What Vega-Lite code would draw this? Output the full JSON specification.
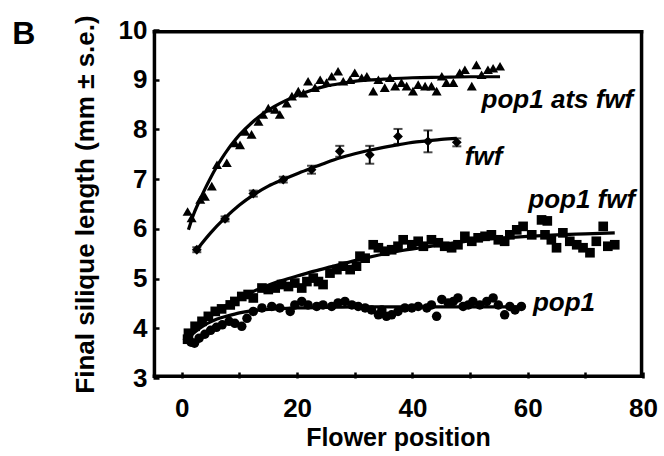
{
  "$schema": "https://vega.github.io/schema/vega-lite/v6.json",
  "width": 490,
  "height": 348,
  "autosize": {"type": "none"},
  "padding": {"left": 153, "top": 30, "right": 21, "bottom": 78},
  "background": "white",
  "view": {"stroke": null},
  "config": {
    "view": {"stroke": null},
    "font": "Liberation Sans",
    "axis": {
      "domain": false,
      "grid": false,
      "ticks": true,
      "zindex": 0,
      "tickColor": "black",
      "tickWidth": 2.5,
      "tickSize": -6,
      "labelFlush": false,
      "labelOverlap": false,
      "labelFont": "Liberation Sans",
      "labelFontSize": 26,
      "labelFontWeight": "bold",
      "labelColor": "black",
      "titleFont": "Liberation Sans",
      "titleFontWeight": "bold",
      "titleColor": "black"
    }
  },
  "datasets": {
    "pts": [
      {"series": "pop1 ats fwf", "x": 1.0, "y": 6.35}, {"series": "pop1 ats fwf", "x": 1.7, "y": 6.22},
      {"series": "pop1 ats fwf", "x": 3.2, "y": 6.59}, {"series": "pop1 ats fwf", "x": 4.0, "y": 6.65},
      {"series": "pop1 ats fwf", "x": 5.2, "y": 6.86}, {"series": "pop1 ats fwf", "x": 6.1, "y": 7.29},
      {"series": "pop1 ats fwf", "x": 7.8, "y": 7.33}, {"series": "pop1 ats fwf", "x": 9.2, "y": 7.73},
      {"series": "pop1 ats fwf", "x": 10.1, "y": 7.69}, {"series": "pop1 ats fwf", "x": 11.0, "y": 7.96},
      {"series": "pop1 ats fwf", "x": 12.1, "y": 7.9}, {"series": "pop1 ats fwf", "x": 13.3, "y": 8.16},
      {"series": "pop1 ats fwf", "x": 14.1, "y": 8.3}, {"series": "pop1 ats fwf", "x": 15.0, "y": 8.43},
      {"series": "pop1 ats fwf", "x": 16.2, "y": 8.4}, {"series": "pop1 ats fwf", "x": 17.0, "y": 8.3},
      {"series": "pop1 ats fwf", "x": 18.2, "y": 8.53}, {"series": "pop1 ats fwf", "x": 19.1, "y": 8.67},
      {"series": "pop1 ats fwf", "x": 20.2, "y": 8.77}, {"series": "pop1 ats fwf", "x": 21.1, "y": 8.73},
      {"series": "pop1 ats fwf", "x": 21.9, "y": 8.97}, {"series": "pop1 ats fwf", "x": 23.1, "y": 8.84},
      {"series": "pop1 ats fwf", "x": 24.0, "y": 9.0}, {"series": "pop1 ats fwf", "x": 25.1, "y": 8.94},
      {"series": "pop1 ats fwf", "x": 26.0, "y": 9.07}, {"series": "pop1 ats fwf", "x": 27.1, "y": 9.17},
      {"series": "pop1 ats fwf", "x": 28.0, "y": 8.97}, {"series": "pop1 ats fwf", "x": 29.2, "y": 9.0},
      {"series": "pop1 ats fwf", "x": 30.0, "y": 9.14}, {"series": "pop1 ats fwf", "x": 31.2, "y": 9.04},
      {"series": "pop1 ats fwf", "x": 32.1, "y": 9.07}, {"series": "pop1 ats fwf", "x": 33.2, "y": 8.77},
      {"series": "pop1 ats fwf", "x": 34.1, "y": 9.0}, {"series": "pop1 ats fwf", "x": 35.2, "y": 8.84},
      {"series": "pop1 ats fwf", "x": 36.1, "y": 9.04}, {"series": "pop1 ats fwf", "x": 37.0, "y": 8.87},
      {"series": "pop1 ats fwf", "x": 38.1, "y": 8.94}, {"series": "pop1 ats fwf", "x": 39.0, "y": 8.87},
      {"series": "pop1 ats fwf", "x": 40.1, "y": 8.77}, {"series": "pop1 ats fwf", "x": 41.0, "y": 8.9},
      {"series": "pop1 ats fwf", "x": 42.2, "y": 8.87}, {"series": "pop1 ats fwf", "x": 43.3, "y": 8.87},
      {"series": "pop1 ats fwf", "x": 44.2, "y": 8.77}, {"series": "pop1 ats fwf", "x": 45.1, "y": 9.07},
      {"series": "pop1 ats fwf", "x": 45.9, "y": 8.94}, {"series": "pop1 ats fwf", "x": 47.1, "y": 8.94},
      {"series": "pop1 ats fwf", "x": 48.2, "y": 9.14}, {"series": "pop1 ats fwf", "x": 49.1, "y": 9.2},
      {"series": "pop1 ats fwf", "x": 50.3, "y": 8.87}, {"series": "pop1 ats fwf", "x": 51.1, "y": 9.3},
      {"series": "pop1 ats fwf", "x": 52.0, "y": 9.1}, {"series": "pop1 ats fwf", "x": 53.1, "y": 9.2},
      {"series": "pop1 ats fwf", "x": 54.0, "y": 9.23}, {"series": "pop1 ats fwf", "x": 55.2, "y": 9.27},

      {"series": "fwf", "x": 2.6, "y": 5.58}, {"series": "fwf", "x": 7.5, "y": 6.2},
      {"series": "fwf", "x": 12.4, "y": 6.71}, {"series": "fwf", "x": 17.6, "y": 6.99},
      {"series": "fwf", "x": 22.5, "y": 7.19}, {"series": "fwf", "x": 27.4, "y": 7.56},
      {"series": "fwf", "x": 32.6, "y": 7.49}, {"series": "fwf", "x": 37.5, "y": 7.86},
      {"series": "fwf", "x": 42.7, "y": 7.76}, {"series": "fwf", "x": 47.7, "y": 7.74},

      {"series": "pop1 fwf", "x": 1.0, "y": 3.78}, {"series": "pop1 fwf", "x": 1.15, "y": 3.9},
      {"series": "pop1 fwf", "x": 2.3, "y": 4.04}, {"series": "pop1 fwf", "x": 3.5, "y": 4.14},
      {"series": "pop1 fwf", "x": 4.6, "y": 4.24}, {"series": "pop1 fwf", "x": 5.8, "y": 4.34},
      {"series": "pop1 fwf", "x": 6.9, "y": 4.39}, {"series": "pop1 fwf", "x": 8.4, "y": 4.47},
      {"series": "pop1 fwf", "x": 9.2, "y": 4.54}, {"series": "pop1 fwf", "x": 10.4, "y": 4.64},
      {"series": "pop1 fwf", "x": 11.5, "y": 4.68}, {"series": "pop1 fwf", "x": 12.4, "y": 4.61},
      {"series": "pop1 fwf", "x": 13.9, "y": 4.81}, {"series": "pop1 fwf", "x": 15.0, "y": 4.78},
      {"series": "pop1 fwf", "x": 16.2, "y": 4.81}, {"series": "pop1 fwf", "x": 17.3, "y": 4.88},
      {"series": "pop1 fwf", "x": 18.5, "y": 4.84}, {"series": "pop1 fwf", "x": 19.6, "y": 4.91},
      {"series": "pop1 fwf", "x": 20.8, "y": 4.81}, {"series": "pop1 fwf", "x": 21.7, "y": 4.94},
      {"series": "pop1 fwf", "x": 22.8, "y": 5.01}, {"series": "pop1 fwf", "x": 23.7, "y": 4.94},
      {"series": "pop1 fwf", "x": 24.5, "y": 4.88}, {"series": "pop1 fwf", "x": 25.7, "y": 5.11},
      {"series": "pop1 fwf", "x": 26.9, "y": 5.18}, {"series": "pop1 fwf", "x": 28.0, "y": 5.25},
      {"series": "pop1 fwf", "x": 29.2, "y": 5.18}, {"series": "pop1 fwf", "x": 30.3, "y": 5.25},
      {"series": "pop1 fwf", "x": 30.9, "y": 5.45}, {"series": "pop1 fwf", "x": 31.8, "y": 5.41},
      {"series": "pop1 fwf", "x": 33.2, "y": 5.68}, {"series": "pop1 fwf", "x": 34.1, "y": 5.62},
      {"series": "pop1 fwf", "x": 35.2, "y": 5.55}, {"series": "pop1 fwf", "x": 36.4, "y": 5.58},
      {"series": "pop1 fwf", "x": 37.5, "y": 5.65}, {"series": "pop1 fwf", "x": 38.4, "y": 5.78},
      {"series": "pop1 fwf", "x": 39.9, "y": 5.68}, {"series": "pop1 fwf", "x": 41.0, "y": 5.75},
      {"series": "pop1 fwf", "x": 41.9, "y": 5.65}, {"series": "pop1 fwf", "x": 43.3, "y": 5.78},
      {"series": "pop1 fwf", "x": 44.5, "y": 5.72}, {"series": "pop1 fwf", "x": 45.6, "y": 5.65},
      {"series": "pop1 fwf", "x": 46.8, "y": 5.62}, {"series": "pop1 fwf", "x": 47.9, "y": 5.68},
      {"series": "pop1 fwf", "x": 49.1, "y": 5.85}, {"series": "pop1 fwf", "x": 50.3, "y": 5.75},
      {"series": "pop1 fwf", "x": 51.4, "y": 5.82}, {"series": "pop1 fwf", "x": 52.6, "y": 5.85},
      {"series": "pop1 fwf", "x": 53.7, "y": 5.88}, {"series": "pop1 fwf", "x": 54.9, "y": 5.78},
      {"series": "pop1 fwf", "x": 56.0, "y": 5.75}, {"series": "pop1 fwf", "x": 56.9, "y": 5.88},
      {"series": "pop1 fwf", "x": 58.1, "y": 5.98}, {"series": "pop1 fwf", "x": 59.2, "y": 6.05},
      {"series": "pop1 fwf", "x": 60.7, "y": 5.88}, {"series": "pop1 fwf", "x": 62.4, "y": 6.18},
      {"series": "pop1 fwf", "x": 63.4, "y": 6.16}, {"series": "pop1 fwf", "x": 63.0, "y": 5.88},
      {"series": "pop1 fwf", "x": 64.1, "y": 5.78}, {"series": "pop1 fwf", "x": 65.0, "y": 5.62},
      {"series": "pop1 fwf", "x": 66.1, "y": 5.92}, {"series": "pop1 fwf", "x": 67.3, "y": 5.75},
      {"series": "pop1 fwf", "x": 68.5, "y": 5.68}, {"series": "pop1 fwf", "x": 69.6, "y": 5.62},
      {"series": "pop1 fwf", "x": 70.8, "y": 5.52}, {"series": "pop1 fwf", "x": 71.9, "y": 5.75},
      {"series": "pop1 fwf", "x": 73.1, "y": 6.05}, {"series": "pop1 fwf", "x": 73.9, "y": 5.65},
      {"series": "pop1 fwf", "x": 75.1, "y": 5.68},

      {"series": "pop1", "x": 1.0, "y": 3.78}, {"series": "pop1", "x": 1.6, "y": 3.72},
      {"series": "pop1", "x": 2.2, "y": 3.7}, {"series": "pop1", "x": 3.0, "y": 3.8},
      {"series": "pop1", "x": 4.0, "y": 3.88}, {"series": "pop1", "x": 5.0, "y": 3.96},
      {"series": "pop1", "x": 6.0, "y": 4.02}, {"series": "pop1", "x": 7.0, "y": 4.07},
      {"series": "pop1", "x": 8.2, "y": 4.14}, {"series": "pop1", "x": 9.2, "y": 4.1},
      {"series": "pop1", "x": 10.4, "y": 4.04}, {"series": "pop1", "x": 11.3, "y": 4.2},
      {"series": "pop1", "x": 12.4, "y": 4.34}, {"series": "pop1", "x": 13.9, "y": 4.41},
      {"series": "pop1", "x": 15.6, "y": 4.44}, {"series": "pop1", "x": 17.0, "y": 4.41},
      {"series": "pop1", "x": 18.8, "y": 4.34}, {"series": "pop1", "x": 19.6, "y": 4.47},
      {"series": "pop1", "x": 20.8, "y": 4.54}, {"series": "pop1", "x": 21.9, "y": 4.47},
      {"series": "pop1", "x": 23.4, "y": 4.44}, {"series": "pop1", "x": 24.5, "y": 4.47},
      {"series": "pop1", "x": 26.0, "y": 4.44}, {"series": "pop1", "x": 27.1, "y": 4.51},
      {"series": "pop1", "x": 28.3, "y": 4.54}, {"series": "pop1", "x": 29.5, "y": 4.47},
      {"series": "pop1", "x": 30.6, "y": 4.44}, {"series": "pop1", "x": 31.8, "y": 4.41},
      {"series": "pop1", "x": 32.9, "y": 4.37}, {"series": "pop1", "x": 34.1, "y": 4.27},
      {"series": "pop1", "x": 34.7, "y": 4.37}, {"series": "pop1", "x": 35.5, "y": 4.24},
      {"series": "pop1", "x": 36.4, "y": 4.27}, {"series": "pop1", "x": 37.5, "y": 4.34},
      {"series": "pop1", "x": 38.7, "y": 4.41}, {"series": "pop1", "x": 39.9, "y": 4.41},
      {"series": "pop1", "x": 41.0, "y": 4.44}, {"series": "pop1", "x": 42.5, "y": 4.41},
      {"series": "pop1", "x": 43.3, "y": 4.47}, {"series": "pop1", "x": 44.2, "y": 4.24},
      {"series": "pop1", "x": 45.1, "y": 4.58}, {"series": "pop1", "x": 46.2, "y": 4.51},
      {"series": "pop1", "x": 47.1, "y": 4.54}, {"series": "pop1", "x": 47.9, "y": 4.61},
      {"series": "pop1", "x": 48.8, "y": 4.44}, {"series": "pop1", "x": 49.7, "y": 4.47},
      {"series": "pop1", "x": 50.5, "y": 4.54}, {"series": "pop1", "x": 51.7, "y": 4.47},
      {"series": "pop1", "x": 52.9, "y": 4.54}, {"series": "pop1", "x": 54.0, "y": 4.61},
      {"series": "pop1", "x": 54.9, "y": 4.47}, {"series": "pop1", "x": 56.0, "y": 4.27},
      {"series": "pop1", "x": 56.9, "y": 4.44}, {"series": "pop1", "x": 57.8, "y": 4.37},
      {"series": "pop1", "x": 58.9, "y": 4.44}
    ],
    "fit": [
      {"series": "pop1 ats fwf", "x": 1.15, "y": 5.98}, {"series": "pop1 ats fwf", "x": 2, "y": 6.28},
      {"series": "pop1 ats fwf", "x": 3, "y": 6.55}, {"series": "pop1 ats fwf", "x": 4, "y": 6.8},
      {"series": "pop1 ats fwf", "x": 5, "y": 7.03}, {"series": "pop1 ats fwf", "x": 6, "y": 7.24},
      {"series": "pop1 ats fwf", "x": 7, "y": 7.43}, {"series": "pop1 ats fwf", "x": 8, "y": 7.6},
      {"series": "pop1 ats fwf", "x": 9, "y": 7.75}, {"series": "pop1 ats fwf", "x": 10, "y": 7.89},
      {"series": "pop1 ats fwf", "x": 12, "y": 8.12}, {"series": "pop1 ats fwf", "x": 14, "y": 8.31},
      {"series": "pop1 ats fwf", "x": 16, "y": 8.46}, {"series": "pop1 ats fwf", "x": 18, "y": 8.58},
      {"series": "pop1 ats fwf", "x": 20, "y": 8.68}, {"series": "pop1 ats fwf", "x": 22, "y": 8.77},
      {"series": "pop1 ats fwf", "x": 25, "y": 8.87}, {"series": "pop1 ats fwf", "x": 28, "y": 8.93},
      {"series": "pop1 ats fwf", "x": 31, "y": 8.98}, {"series": "pop1 ats fwf", "x": 35, "y": 9.01},
      {"series": "pop1 ats fwf", "x": 40, "y": 9.04}, {"series": "pop1 ats fwf", "x": 45, "y": 9.05},
      {"series": "pop1 ats fwf", "x": 50, "y": 9.06}, {"series": "pop1 ats fwf", "x": 55.2, "y": 9.06},

      {"series": "fwf", "x": 2.6, "y": 5.58}, {"series": "fwf", "x": 5, "y": 5.92},
      {"series": "fwf", "x": 7.5, "y": 6.22}, {"series": "fwf", "x": 10, "y": 6.48},
      {"series": "fwf", "x": 12.5, "y": 6.69}, {"series": "fwf", "x": 15, "y": 6.86},
      {"series": "fwf", "x": 17.5, "y": 6.99}, {"series": "fwf", "x": 20, "y": 7.11},
      {"series": "fwf", "x": 22.5, "y": 7.22}, {"series": "fwf", "x": 25, "y": 7.33},
      {"series": "fwf", "x": 27.5, "y": 7.43}, {"series": "fwf", "x": 30, "y": 7.51},
      {"series": "fwf", "x": 32.5, "y": 7.58}, {"series": "fwf", "x": 35, "y": 7.64},
      {"series": "fwf", "x": 37.5, "y": 7.69}, {"series": "fwf", "x": 40, "y": 7.74},
      {"series": "fwf", "x": 42.5, "y": 7.77}, {"series": "fwf", "x": 45, "y": 7.8},
      {"series": "fwf", "x": 47.7, "y": 7.82},

      {"series": "pop1 fwf", "x": 1.2, "y": 3.85}, {"series": "pop1 fwf", "x": 3, "y": 4.05},
      {"series": "pop1 fwf", "x": 5, "y": 4.24}, {"series": "pop1 fwf", "x": 7, "y": 4.41},
      {"series": "pop1 fwf", "x": 9, "y": 4.55}, {"series": "pop1 fwf", "x": 11, "y": 4.67},
      {"series": "pop1 fwf", "x": 14, "y": 4.82}, {"series": "pop1 fwf", "x": 17, "y": 4.95},
      {"series": "pop1 fwf", "x": 20, "y": 5.05}, {"series": "pop1 fwf", "x": 23, "y": 5.15},
      {"series": "pop1 fwf", "x": 26, "y": 5.24}, {"series": "pop1 fwf", "x": 30, "y": 5.36},
      {"series": "pop1 fwf", "x": 34, "y": 5.47}, {"series": "pop1 fwf", "x": 38, "y": 5.56},
      {"series": "pop1 fwf", "x": 42, "y": 5.63}, {"series": "pop1 fwf", "x": 46, "y": 5.7},
      {"series": "pop1 fwf", "x": 50, "y": 5.76}, {"series": "pop1 fwf", "x": 55, "y": 5.81},
      {"series": "pop1 fwf", "x": 60, "y": 5.85}, {"series": "pop1 fwf", "x": 65, "y": 5.88},
      {"series": "pop1 fwf", "x": 70, "y": 5.9}, {"series": "pop1 fwf", "x": 75.1, "y": 5.92},

      {"series": "pop1", "x": 1.2, "y": 3.8}, {"series": "pop1", "x": 2, "y": 3.9},
      {"series": "pop1", "x": 3, "y": 3.99}, {"series": "pop1", "x": 4, "y": 4.07},
      {"series": "pop1", "x": 5, "y": 4.13}, {"series": "pop1", "x": 6, "y": 4.18},
      {"series": "pop1", "x": 8, "y": 4.25}, {"series": "pop1", "x": 10, "y": 4.31},
      {"series": "pop1", "x": 12, "y": 4.35}, {"series": "pop1", "x": 15, "y": 4.38},
      {"series": "pop1", "x": 20, "y": 4.41}, {"series": "pop1", "x": 25, "y": 4.42},
      {"series": "pop1", "x": 30, "y": 4.43}, {"series": "pop1", "x": 40, "y": 4.43},
      {"series": "pop1", "x": 50, "y": 4.43}, {"series": "pop1", "x": 58.9, "y": 4.43}
    ],
    "err": [
      {"x": 2.6, "lo": 5.53, "hi": 5.63}, {"x": 7.5, "lo": 6.15, "hi": 6.25},
      {"x": 12.4, "lo": 6.65, "hi": 6.77}, {"x": 17.6, "lo": 6.93, "hi": 7.05},
      {"x": 22.5, "lo": 7.11, "hi": 7.27}, {"x": 27.4, "lo": 7.45, "hi": 7.67},
      {"x": 32.6, "lo": 7.31, "hi": 7.67}, {"x": 37.5, "lo": 7.71, "hi": 8.01},
      {"x": 42.7, "lo": 7.54, "hi": 7.98}, {"x": 47.7, "lo": 7.66, "hi": 7.82}
    ],
    "labels": [
      {"x": 52.0, "y": 8.43, "text": "pop1 ats fwf"},
      {"x": 49.1, "y": 7.29, "text": "fwf"},
      {"x": 60.1, "y": 6.42, "text": "pop1 fwf"},
      {"x": 60.9, "y": 4.34, "text": "pop1"}
    ],
    "panel": [
      {"x": -27.4, "y": 9.71, "text": "B"}
    ],
    "frame": [
      {"xmin": -4.75, "xmax": 79.75, "ymin": 3.035, "ymax": 9.965}
    ]
  },
  "layer": [
    {
      "data": {"name": "fit"},
      "mark": {"type": "line", "color": "black", "strokeWidth": 3.2, "interpolate": "monotone"},
      "encoding": {
        "x": {
          "field": "x", "type": "quantitative",
          "scale": {"domain": [-5, 80], "nice": false, "zero": false},
          "axis": {
            "domain": false,
            "grid": false,
            "ticks": true,
            "zindex": 0,
            "tickColor": "black",
            "tickWidth": 2.5,
            "tickSize": -6,
            "values": [0, 10, 20, 30, 40, 50, 60, 70, 80],
            "labelExpr": "datum.value % 20 == 0 ? datum.label : ''",
            "labelPadding": 23,
            "title": "Flower position",
            "titleFontSize": 25,
            "titlePadding": 4
          }
        },
        "y": {
          "field": "y", "type": "quantitative",
          "scale": {"domain": [3, 10], "nice": false, "zero": false},
          "axis": {
            "domain": false,
            "grid": false,
            "ticks": true,
            "zindex": 0,
            "tickColor": "black",
            "tickWidth": 2.5,
            "tickSize": -6,
            "values": [3, 4, 5, 6, 7, 8, 9, 10],
            "labelPadding": 12,
            "title": "Final silique length (mm ± s.e.)",
            "titleFontSize": 26,
            "titlePadding": 20
          }
        },
        "detail": {"field": "series"}
      }
    },
    {
      "data": {"name": "err"},
      "mark": {"type": "rule", "color": "black", "strokeWidth": 2},
      "encoding": {
        "x": {"field": "x", "type": "quantitative"},
        "y": {"field": "lo", "type": "quantitative"},
        "y2": {"field": "hi"}
      }
    },
    {
      "data": {"name": "err"},
      "mark": {"type": "tick", "color": "black", "orient": "horizontal", "size": 9, "thickness": 2},
      "encoding": {
        "x": {"field": "x", "type": "quantitative"},
        "y": {"field": "lo", "type": "quantitative"}
      }
    },
    {
      "data": {"name": "err"},
      "mark": {"type": "tick", "color": "black", "orient": "horizontal", "size": 9, "thickness": 2},
      "encoding": {
        "x": {"field": "x", "type": "quantitative"},
        "y": {"field": "hi", "type": "quantitative"}
      }
    },
    {
      "data": {"name": "pts"},
      "mark": {"type": "point", "filled": true, "color": "black", "opacity": 1},
      "encoding": {
        "x": {"field": "x", "type": "quantitative"},
        "y": {"field": "y", "type": "quantitative"},
        "shape": {
          "field": "series", "type": "nominal",
          "scale": {"domain": ["pop1 ats fwf", "fwf", "pop1 fwf", "pop1"], "range": ["triangle-up", "diamond", "square", "circle"]},
          "legend": null
        },
        "size": {
          "field": "series", "type": "nominal",
          "scale": {"domain": ["pop1 ats fwf", "fwf", "pop1 fwf", "pop1"], "range": [100, 90, 70, 70]},
          "legend": null
        }
      }
    },
    {
      "data": {"name": "labels"},
      "mark": {"type": "text", "align": "left", "baseline": "alphabetic", "font": "Liberation Sans", "fontSize": 26, "fontWeight": "bold", "fontStyle": "italic", "color": "black"},
      "encoding": {
        "x": {"field": "x", "type": "quantitative"},
        "y": {"field": "y", "type": "quantitative"},
        "text": {"field": "text"}
      }
    },
    {
      "data": {"name": "panel"},
      "mark": {"type": "text", "align": "center", "baseline": "alphabetic", "font": "Liberation Sans", "fontSize": 32, "fontWeight": "bold", "color": "black", "clip": false},
      "encoding": {
        "x": {"field": "x", "type": "quantitative"},
        "y": {"field": "y", "type": "quantitative"},
        "text": {"field": "text"}
      }
    },
    {
      "data": {"name": "frame"},
      "mark": {"type": "rule", "color": "black", "strokeWidth": 3.5, "strokeCap": "square"},
      "encoding": {
        "x": {"field": "xmin", "type": "quantitative"},
        "y": {"field": "ymin", "type": "quantitative"},
        "y2": {"field": "ymax"}
      }
    },
    {
      "data": {"name": "frame"},
      "mark": {"type": "rule", "color": "black", "strokeWidth": 3.5, "strokeCap": "square"},
      "encoding": {
        "x": {"field": "xmax", "type": "quantitative"},
        "y": {"field": "ymin", "type": "quantitative"},
        "y2": {"field": "ymax"}
      }
    },
    {
      "data": {"name": "frame"},
      "mark": {"type": "rule", "color": "black", "strokeWidth": 3.5, "strokeCap": "square"},
      "encoding": {
        "y": {"field": "ymin", "type": "quantitative"},
        "x": {"field": "xmin", "type": "quantitative"},
        "x2": {"field": "xmax"}
      }
    },
    {
      "data": {"name": "frame"},
      "mark": {"type": "rule", "color": "black", "strokeWidth": 3.5, "strokeCap": "square"},
      "encoding": {
        "y": {"field": "ymax", "type": "quantitative"},
        "x": {"field": "xmin", "type": "quantitative"},
        "x2": {"field": "xmax"}
      }
    }
  ]
}
